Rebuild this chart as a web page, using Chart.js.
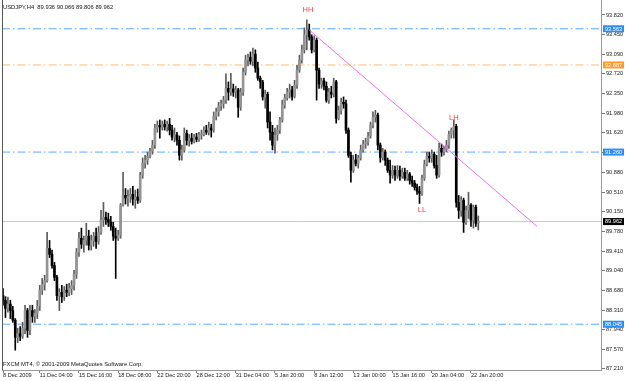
<!DOCTYPE html>
<html>
<head>
<meta charset="utf-8">
<script src="https://cdn.jsdelivr.net/npm/chart.js@4.4.1/dist/chart.umd.min.js"></script>
<style>
html, body { margin: 0; padding: 0; background: #fff; }
#grafico { display: block; }
</style>
</head>
<body>
<canvas id="grafico" width="625" height="381"></canvas>
<script>
// USDJPY H4 candles (bar index = position from the left)
const opens = [
88.58,88.49,88.34,88.42,88.30,88.12,87.80,87.87,87.82,87.97,
88.30,87.93,88.30,88.19,88.25,88.38,88.68,88.79,88.86,89.46,
89.35,89.14,88.92,88.58,88.64,88.56,88.68,88.64,88.71,88.77,
88.98,89.39,89.65,89.54,89.61,89.69,89.52,89.61,89.69,89.59,
89.76,89.99,90.04,90.00,89.95,89.87,89.69,89.65,89.71,90.27,
90.45,90.40,90.43,90.47,90.38,90.42,90.36,90.83,91.05,91.11,
91.18,91.28,91.39,91.71,91.76,91.73,91.78,91.73,91.78,91.67,
91.54,91.58,91.48,91.20,91.30,91.61,91.48,91.52,91.46,91.54,
91.50,91.58,91.59,91.67,91.63,91.71,91.67,91.93,92.01,92.12,
92.16,92.23,92.45,92.38,92.44,92.38,92.42,92.10,92.38,92.75,
92.98,93.03,92.96,93.09,92.83,92.64,92.57,92.29,92.34,91.82,
91.63,91.39,91.58,91.67,91.86,92.14,92.27,92.38,92.42,92.30,
92.51,92.79,92.98,93.17,93.45,93.54,93.41,93.17,93.35,92.79,
92.53,92.59,92.49,92.23,92.38,92.34,92.57,91.89,92.04,92.19,
92.16,91.67,91.20,90.92,91.11,91.05,91.15,91.30,91.41,91.45,
91.56,91.76,91.91,91.95,91.39,91.16,91.26,91.11,90.92,90.83,
90.92,90.83,90.92,90.81,90.88,90.77,90.85,90.73,90.68,90.60,
90.53,90.49,90.77,91.03,91.18,91.15,91.22,91.01,90.83,91.33,
91.26,91.31,91.39,91.59,91.67,91.74,90.32,90.17,90.36,89.95,
90.17,90.27,89.99,90.23,89.936
];
const highs = [
88.71,88.56,88.55,88.49,88.38,88.15,87.97,88.00,88.08,88.40,
88.34,88.40,88.40,88.32,88.49,88.77,88.90,88.96,89.76,89.61,
89.43,89.20,88.96,88.71,88.77,88.75,88.79,88.81,88.86,89.05,
89.46,89.76,89.84,89.69,89.93,89.80,89.71,89.76,89.84,89.87,
90.17,90.32,90.14,90.12,90.06,89.95,89.84,89.80,90.30,90.88,
90.58,90.55,90.58,90.62,90.55,90.57,90.88,91.15,91.20,91.26,
91.33,91.48,91.78,91.84,91.86,91.84,91.86,91.84,91.89,91.76,
91.71,91.63,91.56,91.39,91.71,91.67,91.59,91.61,91.59,91.61,
91.63,91.67,91.73,91.76,91.82,91.78,92.01,92.08,92.19,92.23,
92.30,92.72,92.57,92.73,92.53,92.49,92.45,92.45,92.83,93.07,
93.09,93.13,93.20,93.17,92.94,92.68,92.60,92.42,92.38,92.01,
91.76,91.71,91.76,91.91,92.23,92.34,92.45,92.53,92.49,92.60,
92.88,93.07,93.26,93.58,93.73,93.65,93.45,93.43,93.39,92.83,
92.64,92.64,92.57,92.45,92.49,92.64,92.60,92.12,92.27,92.29,
92.23,91.71,91.26,91.20,91.22,91.20,91.39,91.48,91.52,91.63,
91.82,92.01,92.04,91.99,91.43,91.33,91.30,91.15,91.11,91.01,
91.00,91.01,91.00,90.96,90.96,90.92,90.88,90.81,90.73,90.66,
90.62,90.83,91.11,91.26,91.26,91.30,91.26,91.20,91.43,91.41,
91.37,91.48,91.65,91.71,91.86,91.78,90.45,90.43,90.40,90.25,
90.51,90.30,90.27,90.27,90.066
];
const lows = [
88.40,88.17,88.27,88.15,88.08,87.56,87.70,87.74,87.78,87.87,
87.80,87.85,88.08,88.08,88.15,88.30,88.60,88.68,88.83,89.29,
89.09,88.86,88.49,88.30,88.45,88.49,88.56,88.58,88.60,88.68,
88.90,89.31,89.46,89.39,89.52,89.43,89.43,89.50,89.46,89.54,
89.72,89.87,89.91,89.87,89.80,89.61,88.90,89.61,89.65,90.25,
90.29,90.25,90.32,90.27,90.21,90.30,90.32,90.77,90.96,91.03,
91.15,91.22,91.33,91.63,91.52,91.67,91.67,91.65,91.58,91.48,
91.45,91.39,91.11,91.11,91.26,91.39,91.37,91.41,91.43,91.45,
91.46,91.50,91.56,91.59,91.58,91.54,91.63,91.86,91.93,92.04,
92.08,92.17,92.23,92.32,92.30,92.27,91.91,92.04,92.32,92.70,
92.87,92.90,92.87,92.75,92.60,92.45,92.23,92.08,91.71,91.48,
91.30,91.24,91.48,91.61,91.82,92.08,92.23,92.27,92.23,92.27,
92.45,92.75,92.92,93.11,93.17,93.35,93.11,93.13,92.23,92.45,
92.45,92.42,92.19,92.17,92.27,92.29,91.80,91.86,91.97,92.08,
91.61,91.16,90.70,90.88,91.00,90.96,91.11,91.26,91.33,91.39,
91.52,91.71,91.82,91.30,91.07,91.11,91.01,90.88,90.68,90.77,
90.73,90.77,90.73,90.77,90.73,90.73,90.66,90.62,90.55,90.47,
90.30,90.45,90.73,91.00,91.07,91.07,90.96,90.77,90.79,91.18,
91.20,91.26,91.33,91.52,91.52,90.23,90.02,90.06,89.76,89.91,
90.02,89.87,89.84,89.87,89.806
];
const closes = [
88.49,88.34,88.42,88.30,88.12,87.80,87.87,87.82,87.97,88.30,
87.93,88.30,88.19,88.25,88.38,88.68,88.79,88.86,89.46,89.35,
89.14,88.92,88.58,88.64,88.56,88.68,88.64,88.71,88.77,88.98,
89.39,89.65,89.54,89.61,89.69,89.52,89.61,89.69,89.59,89.76,
89.99,90.04,90.00,89.95,89.87,89.69,89.65,89.71,90.27,90.45,
90.40,90.43,90.47,90.38,90.42,90.36,90.83,91.05,91.11,91.18,
91.28,91.39,91.71,91.76,91.73,91.78,91.73,91.78,91.67,91.54,
91.58,91.48,91.20,91.30,91.61,91.48,91.52,91.46,91.54,91.50,
91.58,91.59,91.67,91.63,91.71,91.67,91.93,92.01,92.12,92.16,
92.23,92.45,92.38,92.44,92.38,92.42,92.10,92.38,92.75,92.98,
93.03,92.96,93.09,92.83,92.64,92.57,92.29,92.34,91.82,91.63,
91.39,91.58,91.67,91.86,92.14,92.27,92.38,92.42,92.30,92.51,
92.79,92.98,93.17,93.45,93.54,93.41,93.17,93.35,92.79,92.53,
92.59,92.49,92.23,92.38,92.34,92.57,91.89,92.04,92.19,92.16,
91.67,91.20,90.92,91.11,91.05,91.15,91.30,91.41,91.45,91.56,
91.76,91.91,91.95,91.39,91.16,91.26,91.11,90.92,90.83,90.92,
90.83,90.92,90.81,90.88,90.77,90.85,90.73,90.68,90.60,90.53,
90.49,90.77,91.03,91.18,91.15,91.22,91.01,90.83,91.33,91.26,
91.31,91.39,91.59,91.67,91.74,90.32,90.17,90.36,89.95,90.17,
90.27,89.99,90.23,89.93,89.962
];

// axes
const xTickIdx = [0, 15, 31, 47, 63, 79, 95, 111, 127, 143, 159, 175, 191];
const xTickLabels = ['8 Dec 2009', '11 Dec 04:00', '15 Dec 16:00', '18 Dec 08:00', '22 Dec 20:00',
    '28 Dec 12:00', '31 Dec 04:00', '5 Jan 20:00', '8 Jan 12:00', '13 Jan 00:00',
    '15 Jan 16:00', '20 Jan 04:00', '22 Jan 20:00'];
const yTicks = [93.82, 93.45, 93.09, 92.72, 92.35, 91.98, 91.62, 91.25, 90.88, 90.51,
    90.15, 89.78, 89.41, 89.04, 88.68, 88.31, 87.94, 87.57, 87.21];

// horizontal levels and the drawn objects
const blueLevels = [93.563, 91.260, 88.045];
const orangeLevels = [92.887];
const bidPrice = 89.962;
const trendIdx = [125, 218];
const trendPrice = [93.54, 89.87];
const markText = ['HH', 'LH', 'LL'];
const markIdx = [124.5, 184, 171];
const markPrice = [93.91, 91.89, 90.17];

const titleText = 'USDJPY,H4  89.936 90.066 89.806 89.962';
const copyText = 'FXCM MT4, \u00a9 2001-2009 MetaQuotes Software Corp.';

const xMin = -0.41, xMax = 244.08;
const yMin = 87.19, yMax = 94.10;

const FONT = '"Liberation Sans", Arial, sans-serif';
const BLUE = '#5aaaff', BLUE_BOX = '#2e8cf5';
const ORANGE = '#ffbc70', ORANGE_BOX = '#ff9a26';

const isUp = i => closes[i] >= opens[i];

function levelLine(v, color) {
    return {
        type: 'line',
        data: [{ x: xMin, y: v }, { x: xMax, y: v }],
        borderColor: color,
        borderWidth: 1,
        borderDash: [8, 3, 1.5, 3],
        pointRadius: 0,
        order: 5
    };
}

const extras = {
    id: 'extras',
    afterDraw(chart) {
        const { ctx, chartArea: a, scales: { x, y } } = chart;
        ctx.save();

        // left frame
        ctx.strokeStyle = '#555';
        ctx.lineWidth = 1;
        ctx.beginPath();
        ctx.moveTo(a.left + 0.5, 0);
        ctx.lineTo(a.left + 0.5, a.bottom);
        ctx.stroke();

        ctx.textBaseline = 'middle';
        ctx.textAlign = 'left';
        ctx.fillStyle = '#111';
        ctx.font = '5.8px ' + FONT;
        ctx.fillText(titleText, 3, 7);
        ctx.fillText(copyText, 3, 364.5);

        ctx.fillStyle = '#ff3c3c';
        ctx.font = '7.5px ' + FONT;
        ctx.textAlign = 'center';
        markText.forEach((t, i) => {
            ctx.fillText(t, x.getPixelForValue(markIdx[i]), y.getPixelForValue(markPrice[i]));
        });

        // price boxes on the right scale
        const box = (v, bg) => {
            const py = y.getPixelForValue(v);
            ctx.fillStyle = bg;
            ctx.fillRect(a.right + 2, py - 3.5, 21, 7);
            ctx.fillStyle = '#fff';
            ctx.textAlign = 'left';
            ctx.font = '5.6px ' + FONT;
            ctx.fillText(v.toFixed(3), a.right + 4, py + 0.3);
        };
        blueLevels.forEach(v => box(v, BLUE_BOX));
        orangeLevels.forEach(v => box(v, ORANGE_BOX));
        box(bidPrice, '#000');

        ctx.restore();
    }
};

const wickData = opens.map((_, i) => ({ x: i, y: [lows[i], highs[i]] }));
const bodyData = opens.map((_, i) => ({ x: i, y: [opens[i], closes[i]] }));

new Chart(document.getElementById('grafico'), {
    type: 'bar',
    data: {
        datasets: [
            {
                data: bodyData,
                barThickness: 2,
                minBarLength: 1,
                grouped: false,
                backgroundColor: c => isUp(c.dataIndex) ? '#949494' : '#000',
                order: 1
            },
            {
                data: wickData,
                barThickness: 1,
                grouped: false,
                backgroundColor: c => isUp(c.dataIndex) ? '#5c5c5c' : '#000',
                order: 2
            },
            ...blueLevels.map(v => levelLine(v, BLUE)),
            ...orangeLevels.map(v => levelLine(v, ORANGE)),
            {
                type: 'line',
                data: [{ x: xMin, y: bidPrice }, { x: xMax, y: bidPrice }],
                borderColor: '#c8c8c8',
                borderWidth: 1,
                pointRadius: 0,
                order: 6
            },
            {
                type: 'line',
                data: trendIdx.map((v, i) => ({ x: v, y: trendPrice[i] })),
                borderColor: '#ee6fee',
                borderWidth: 1,
                pointRadius: 0,
                order: 0
            }
        ]
    },
    options: {
        responsive: false,
        animation: false,
        devicePixelRatio: 1,
        layout: { padding: { left: 2, top: 0, right: 0, bottom: 0 } },
        plugins: { legend: { display: false }, tooltip: { enabled: false } },
        scales: {
            x: {
                type: 'linear',
                position: 'bottom',
                min: xMin,
                max: xMax,
                offset: false,
                afterBuildTicks: s => { s.ticks = xTickIdx.map(v => ({ value: v })); },
                afterFit: s => { s.height = 11; s.paddingLeft = 0; s.paddingRight = 0; },
                ticks: {
                    autoSkip: false,
                    maxRotation: 0,
                    align: 'start',
                    padding: -1,
                    color: '#222',
                    font: { family: FONT, size: 5.6 },
                    callback: (v, i) => xTickLabels[i]
                },
                grid: { drawOnChartArea: false, offset: false, tickLength: 3, color: '#777' },
                border: { display: true, color: '#999' }
            },
            y: {
                position: 'right',
                min: yMin,
                max: yMax,
                afterBuildTicks: s => { s.ticks = yTicks.map(v => ({ value: v })); },
                afterFit: s => { s.width = 24; s.paddingTop = 0; s.paddingBottom = 0; },
                ticks: {
                    padding: 1,
                    color: '#222',
                    font: { family: FONT, size: 5.6 },
                    callback: v => v.toFixed(3)
                },
                grid: { drawOnChartArea: false, tickLength: 4, color: '#777' },
                border: { display: true, color: '#999' }
            }
        }
    },
    plugins: [extras]
});
</script>
</body>
</html>
